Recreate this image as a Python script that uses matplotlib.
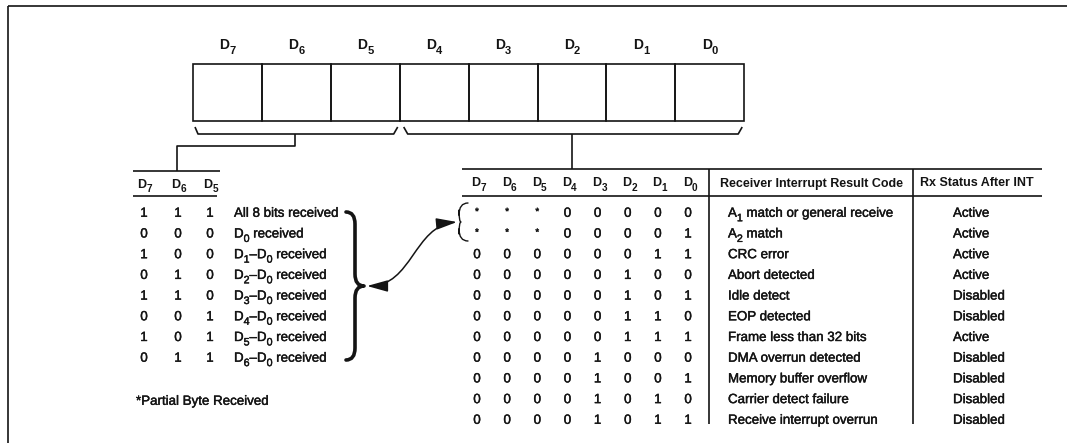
import matplotlib
matplotlib.use("Agg")
import matplotlib.pyplot as plt
import matplotlib.patheffects as pe
from matplotlib.path import Path
from matplotlib.patches import FancyArrowPatch, PathPatch

plt.rcParams['font.family'] = ['Liberation Sans', 'DejaVu Sans']

# register bits
reg_bits = ['7', '6', '5', '4', '3', '2', '1', '0']

# partial byte table (D7 D6 D5)
partial_cols = ['7', '6', '5']
partial_bits = [
    [1, 1, 1], [0, 0, 0], [1, 0, 0], [0, 1, 0],
    [1, 1, 0], [0, 0, 1], [1, 0, 1], [0, 1, 1],
]
partial_desc = [
    'All 8 bits received', 'D_0 received', 'D_1–D_0 received',
    'D_2–D_0 received', 'D_3–D_0 received', 'D_4–D_0 received',
    'D_5–D_0 received', 'D_6–D_0 received',
]

# receiver interrupt result codes
code_bits = [
    ['*', '*', '*', 0, 0, 0, 0, 0],
    ['*', '*', '*', 0, 0, 0, 0, 1],
    [0, 0, 0, 0, 0, 0, 1, 1],
    [0, 0, 0, 0, 0, 1, 0, 0],
    [0, 0, 0, 0, 0, 1, 0, 1],
    [0, 0, 0, 0, 0, 1, 1, 0],
    [0, 0, 0, 0, 0, 1, 1, 1],
    [0, 0, 0, 0, 1, 0, 0, 0],
    [0, 0, 0, 0, 1, 0, 0, 1],
    [0, 0, 0, 0, 1, 0, 1, 0],
    [0, 0, 0, 0, 1, 0, 1, 1],
]
code_desc = [
    'A_1 match or general receive', 'A_2 match', 'CRC error',
    'Abort detected', 'Idle detect', 'EOP detected',
    'Frame less than 32 bits', 'DMA overrun detected',
    'Memory buffer overflow', 'Carrier detect failure',
    'Receive interrupt overrun',
]
code_status = [
    'Active', 'Active', 'Active', 'Active', 'Disabled', 'Disabled',
    'Active', 'Disabled', 'Disabled', 'Disabled', 'Disabled',
]
col_headers = ['Receiver Interrupt Result Code', 'Rx Status After INT']

INK = '#141414'
LW = 1.2
FS = 9.6
FS_H = 9.0
THICK = [pe.withStroke(linewidth=0.3, foreground=INK)]

fig = plt.figure(figsize=(10.67, 4.43), dpi=100)
ax = fig.add_axes([0, 0, 1, 1])
ax.set_xlim(0, 1067)
ax.set_ylim(443, 0)
ax.axis('off')
renderer = fig.canvas.get_renderer()


def parse(s):
    # "_x" marks a one-character subscript
    parts, buf, i = [], '', 0
    while i < len(s):
        if s[i] == '_' and i + 1 < len(s):
            if buf:
                parts.append((buf, False))
                buf = ''
            parts.append((s[i + 1], True))
            i += 2
        else:
            buf += s[i]
            i += 1
    if buf:
        parts.append((buf, False))
    return parts


def rich(x, y, s, fs, ha='left', weight='normal', sub_scale=0.8, sub_drop=0.33):
    # y is the middle of the capitals
    px = fs * 100 / 72
    base = y + 0.36 * px
    items = []
    for t, sub in parse(s):
        size = fs * sub_scale if sub else fs
        yy = base + (sub_drop * px if sub else 0)
        txt = ax.text(0, yy, t, fontsize=size, fontweight=weight,
                      va='baseline', ha='left', color=INK)
        if weight == 'normal':
            txt.set_path_effects(THICK)
        items.append((txt, txt.get_window_extent(renderer).width))
    total = sum(w for _, w in items)
    start = x - total / 2 if ha == 'center' else x
    for txt, w in items:
        txt.set_x(start)
        start += w


def line(xs, ys, lw=LW):
    ax.plot(xs, ys, color=INK, lw=lw, solid_capstyle='butt')


def brace(x0, y_top, y_bot, tip, y_mid, lw):
    # curly brace; tip is the x of the point, x0 the x of the ends
    d = 9 if tip > x0 else -9
    xs = x0 + d
    verts = [(x0, y_top), (xs, y_top), (xs, y_top + 12),
             (xs, y_mid - 12), (xs, y_mid), (tip, y_mid),
             (xs, y_mid), (xs, y_mid + 12),
             (xs, y_bot - 12), (xs, y_bot), (x0, y_bot)]
    codes = [Path.MOVETO, Path.CURVE3, Path.CURVE3,
             Path.LINETO, Path.CURVE3, Path.CURVE3,
             Path.CURVE3, Path.CURVE3,
             Path.LINETO, Path.CURVE3, Path.CURVE3]
    ax.add_patch(PathPatch(Path(verts, codes), fill=False, ec=INK, lw=lw,
                           capstyle='round', joinstyle='round'))


# frame
line([8, 1067], [6, 6])
line([8, 8], [6, 443])

# register
box_x0, cell_w, box_y0, box_y1 = 193, 68.9, 64, 121
for i, b in enumerate(reg_bits):
    x = box_x0 + i * cell_w
    ax.add_patch(plt.Rectangle((x, box_y0), cell_w, box_y1 - box_y0,
                               fill=False, ec=INK, lw=LW))
    rich(x + cell_w / 2, 44, 'D_' + b, 10, ha='center', weight='bold')

# underbraces
split = box_x0 + 3 * cell_w
line([box_x0 + 2, box_x0 + 5, split - 6, split - 2], [127, 134, 134, 127])
line([split + 4, split + 8, box_x0 + 8 * cell_w - 6, box_x0 + 8 * cell_w - 2],
     [127, 134, 134, 127])
line([295, 295, 177, 177], [134, 146, 146, 171])
line([572, 572], [134, 169])

# partial byte table
pcol_x = [144, 178, 210]
row_y0, row_dy = 212, 20.7
line([133, 220], [171, 171])
line([133, 217], [196, 196])
for j, c in enumerate(partial_cols):
    rich(pcol_x[j] + 1, 183, 'D_' + c, FS_H, ha='center', weight='bold')
for i, (bits, desc) in enumerate(zip(partial_bits, partial_desc)):
    y = row_y0 + i * row_dy
    for j, v in enumerate(bits):
        rich(pcol_x[j], y, str(v), FS, ha='center')
    rich(234, y, desc, FS)
rich(136, 400, '*Partial Byte Received', FS)

# result code table
ccol_x = [477 + 30.15 * j for j in range(8)]
n = len(code_bits)
tbl_bot = row_y0 + (n - 1) * row_dy + 5
line([462, 1042], [169, 169])
line([462, 1042], [196, 196])
line([709, 709], [169, tbl_bot])
line([913, 913], [169, tbl_bot])
for j, b in enumerate(reg_bits):
    rich(ccol_x[j] + 2, 182, 'D_' + b, FS_H, ha='center', weight='bold')
rich(811, 182, col_headers[0], FS_H, ha='center', weight='bold')
rich(977, 182, col_headers[1], FS_H, ha='center', weight='bold')
for i in range(n):
    y = row_y0 + i * row_dy
    for j, v in enumerate(code_bits[i]):
        if v == '*':
            rich(ccol_x[j], y - 1, '*', 7, ha='center')
        else:
            rich(ccol_x[j], y, str(v), FS, ha='center')
    rich(728, y, code_desc[i], FS)
    rich(953, y, code_status[i], FS)

# braces and connecting arrow
brace(346, 212, 360, 364, 286, 2.6)
brace(468, 203, 241, 461, 222, 1.0)
arrow_path = Path([(367, 286), (412, 286), (414, 226), (457, 222)],
                  [Path.MOVETO, Path.CURVE4, Path.CURVE4, Path.CURVE4])
ax.add_patch(FancyArrowPatch(path=arrow_path,
                             arrowstyle='<|-|>,head_length=0.9,head_width=0.25',
                             mutation_scale=14, color=INK, lw=1.1))

fig.savefig('out.png', dpi=100)
